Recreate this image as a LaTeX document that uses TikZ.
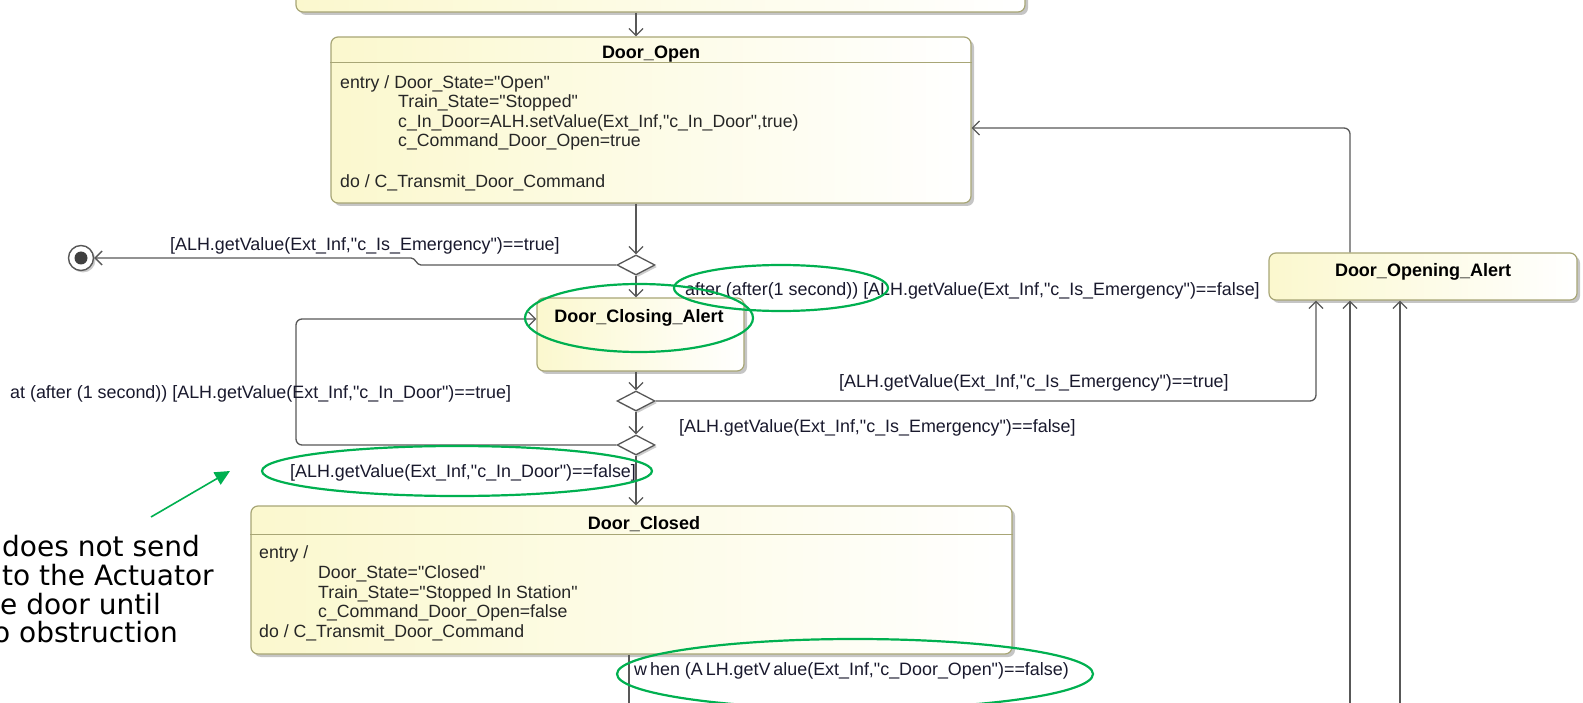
\documentclass[tikz,border=0pt]{standalone}
\usepackage{fontspec}
\setmainfont{Liberation Sans}[Ligatures=TeXOff]
\newfontfamily\annfont{DejaVu Sans}
\usetikzlibrary{arrows.meta,shapes.geometric,shadows,calc}
\definecolor{boxy}{RGB}{251,248,206}
\definecolor{boxb}{RGB}{168,166,118}
\definecolor{linec}{RGB}{88,88,88}
\definecolor{txt}{RGB}{25,25,45}
\definecolor{anng}{RGB}{0,176,80}
\begin{document}
\begin{tikzpicture}[x=1pt,y=-1pt,
  statebox/.style={draw=boxb, line width=1.2pt, rounded corners=7pt, left color=boxy, right color=white,
     drop shadow={shadow xshift=3pt, shadow yshift=-3pt, fill=black!50, opacity=0.45}, inner sep=0pt},
  dia/.style={diamond, draw=linec, line width=1.3pt, fill=white, minimum width=38pt, minimum height=20pt, inner sep=0pt,
     drop shadow={shadow xshift=2pt, shadow yshift=-2pt, fill=black!50, opacity=0.4}},
  tr/.style={draw=linec, line width=1.3pt, -{Straight Barb[length=7pt,width=14pt]}},
  lbl/.style={anchor=west, inner sep=0pt, text=txt, font=\fontsize{17.9}{20}\selectfont},
  body/.style={anchor=west, inner sep=0pt, text=black!85, font=\fontsize{17.7}{20}\selectfont},
  ttl/.style={inner sep=0pt, text=black, font=\bfseries\fontsize{18}{20}\selectfont},
  greenell/.style={ellipse, draw=anng, line width=2.2pt, inner sep=0pt},
  ann/.style={anchor=west, inner sep=0pt, text=black, font=\annfont\fontsize{28}{30}\selectfont}]
\useasboundingbox (0,0) rectangle (1583,703);
\clip (0,0) rectangle (1583,703);
\fill[white] (0,0) rectangle (1583,703);

% column coordinates
\coordinate (cA) at (636,0);
\coordinate (cB) at (629,0);
\coordinate (c1316) at (1316,0);
\coordinate (c1350) at (1350,0);
\coordinate (c1400) at (1400,0);
\coordinate (cy128) at (0,128);
\coordinate (loopL) at (296,319);
\coordinate (bot1) at (1350,712);
\coordinate (bot2) at (1400,712);
\coordinate (belowB) at (629,712);

% states
\node[statebox, minimum width=729pt, minimum height=60pt] (prev) at (660.5,-18) {};
\node[statebox, minimum width=640pt, minimum height=166pt] (open) at (651,120) {};
\draw[boxb, line width=1.1pt] ($(open.north west)+(0,26)$) -- ($(open.north east)+(0,26)$);
\node[ttl] (openT) at (651,54) {Door\_Open};
\node[body] (o1) at (340,84) {entry / Door\_State="Open"};
\node[body] (o2) at (398,103) {Train\_State="Stopped"};
\node[body] (o3) at (398,123) {c\_In\_Door=ALH.setValue(Ext\_Inf,"c\_In\_Door",true)};
\node[body] (o4) at (398,142) {c\_Command\_Door\_Open=true};
\node[body] (o5) at (340,183) {do / C\_Transmit\_Door\_Command};

\node[statebox, minimum width=207pt, minimum height=73pt] (dca) at (640.5,334.5) {};
\node[ttl] (dcaT) at (639,318) {Door\_Closing\_Alert};

\node[statebox, minimum width=308pt, minimum height=47pt] (doa) at (1423,276.5) {};
\node[ttl] (doaT) at (1423,272) {Door\_Opening\_Alert};

\node[statebox, minimum width=761pt, minimum height=148pt] (closed) at (631.5,580) {};
\draw[boxb, line width=1.1pt] ($(closed.north west)+(0,29)$) -- ($(closed.north east)+(0,29)$);
\node[ttl] (closedT) at (644,524) {Door\_Closed};
\node[body] (c1) at (259,554) {entry /};
\node[body] (c2) at (318,574) {Door\_State="Closed"};
\node[body] (c3) at (318,594) {Train\_State="Stopped In Station"};
\node[body] (c4) at (318,613) {c\_Command\_Door\_Open=false};
\node[body] (c5) at (259,633) {do / C\_Transmit\_Door\_Command};

% pseudostates
\node[dia] (d1) at (636,265) {};
\node[dia] (d2) at (636,401) {};
\node[dia] (d3) at (636,445) {};
\node[circle, draw=linec, fill=white, line width=1.4pt, minimum size=25pt, inner sep=0pt,
  drop shadow={shadow xshift=2pt, shadow yshift=-2pt, fill=black!50, opacity=0.4}] (fin) at (81,258) {};
\node[circle, fill=black!75, minimum size=13pt, inner sep=0pt] (finin) at (fin) {};

% transitions
\draw[tr] (prev.south -| cA) -- (open.north -| cA);
\draw[tr] (open.south -| cA) -- (d1.north);
\draw[tr] (d1.west) -- (421,265) to[out=180,in=0] (411,258) -- (fin.east);
\draw[tr] (d1.south) -- (dca.north -| d1);
\draw[tr] (dca.south -| d2) -- (d2.north);
\draw[tr] (d2.south) -- (d3.north);
\draw[tr] (d3.south) -- (closed.north -| d3);
\draw[tr, rounded corners=6pt] (d2.east) -| (doa.south -| c1316);
\draw[tr, rounded corners=6pt] (d3.west) -| (loopL) -- (dca.west |- loopL);
\draw[tr, rounded corners=6pt] (doa.north -| c1350) |- (open.east |- cy128);
\draw[tr] (bot1) -- (doa.south -| c1350);
\draw[tr] (bot2) -- (doa.south -| c1400);
\draw[tr] (closed.south -| cB) -- (belowB);

% labels
\node[lbl] (l1) at (170,246) {[ALH.getValue(Ext\_Inf,"c\_Is\_Emergency")==true]};
\node[lbl] (l2) at (685,291) {after (after(1 second)) [ALH.getValue(Ext\_Inf,"c\_Is\_Emergency")==false]};
\node[lbl] (l3) at (839,383) {[ALH.getValue(Ext\_Inf,"c\_Is\_Emergency")==true]};
\node[lbl] (l4) at (679,428) {[ALH.getValue(Ext\_Inf,"c\_Is\_Emergency")==false]};
\node[lbl] (l5) at (10,394) {at (after (1 second)) [ALH.getValue(Ext\_Inf,"c\_In\_Door")==true]};
\node[lbl] (l6) at (290,473) {[ALH.getValue(Ext\_Inf,"c\_In\_Door")==false]};
\node[lbl] (l7) at (634,671) {w\,hen (A\,LH.getV\,alue(Ext\_Inf,"c\_Door\_Open")==false)};

% annotation
\node[ann] (a1) at (2,546) {does not send};
\node[ann] (a2) at (2,575) {to the Actuator};
\node[ann] (a3) at (0,604) {e door until};
\node[ann] (a4) at (-7,632) {o obstruction};
\coordinate (ga0) at (151,517);
\coordinate (ga1) at (230,471);
\draw[anng, line width=1.6pt, -{Triangle[length=15pt,width=14pt]}] (ga0) -- (ga1);
\node[greenell, minimum width=214pt, minimum height=46pt] (e1) at (781,288) {};
\node[greenell, minimum width=228pt, minimum height=68pt] (e2) at (639,318) {};
\node[greenell, minimum width=390pt, minimum height=50pt] (e3) at (457,471) {};
\node[greenell, minimum width=476pt, minimum height=70pt] (e4) at (855,674) {};
\end{tikzpicture}
\end{document}
